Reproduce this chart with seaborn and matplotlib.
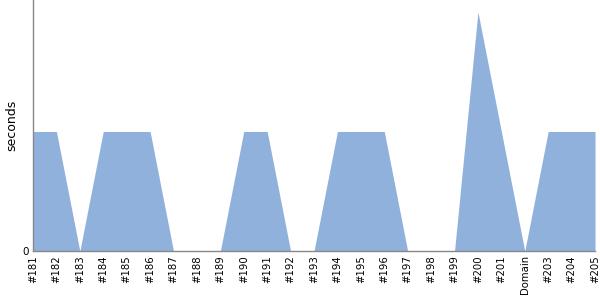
import matplotlib
matplotlib.use("Agg")
import matplotlib.pyplot as plt
import seaborn as sns
import pandas as pd
import numpy as np

labels = ["#181", "#182", "#183", "#184", "#185", "#186", "#187", "#188", "#189",
          "#190", "#191", "#192", "#193", "#194", "#195", "#196", "#197", "#198",
          "#199", "#200", "#201", "Domain", "#203", "#204", "#205"]
seconds = [1, 1, 0, 1, 1, 1, 0, 0, 0, 1, 1, 0, 0, 1, 1, 1, 0, 0, 0, 2, 1, 0, 1, 1, 1]

sns.set_theme(style="white")
plt.rcParams['font.family'] = ['DejaVu Sans']

df = pd.DataFrame({"build": labels, "seconds": seconds})
df["pos"] = np.arange(len(df))

fig = plt.figure(figsize=(6, 3), dpi=100)
ax = fig.add_axes([0.055, 0.1633, 0.9367, 0.8367])
color = "#8fb1db"
sns.lineplot(data=df, x="pos", y="seconds", ax=ax, color=color, linewidth=0)
ax.fill_between(df["pos"], df["seconds"], color=color, linewidth=0)

ax.set_xlim(0, len(df) - 1)
ax.set_ylim(0, 2.1)
ax.set_xticks(df["pos"])
ax.set_xticklabels(df["build"], rotation=90, fontsize=7.3, color="black")
ax.set_yticks([0])
ax.set_yticklabels(["0"], fontsize=7.5, color="black")
ax.tick_params(axis="both", length=0, pad=3)
ax.set_xlabel("")
ax.set_ylabel("seconds", fontsize=9, color="black", labelpad=3)
for s in ["top", "right"]:
    ax.spines[s].set_visible(False)
for s in ["left", "bottom"]:
    ax.spines[s].set_color("#888888")
    ax.spines[s].set_linewidth(1)

fig.savefig("out.png", dpi=100)
